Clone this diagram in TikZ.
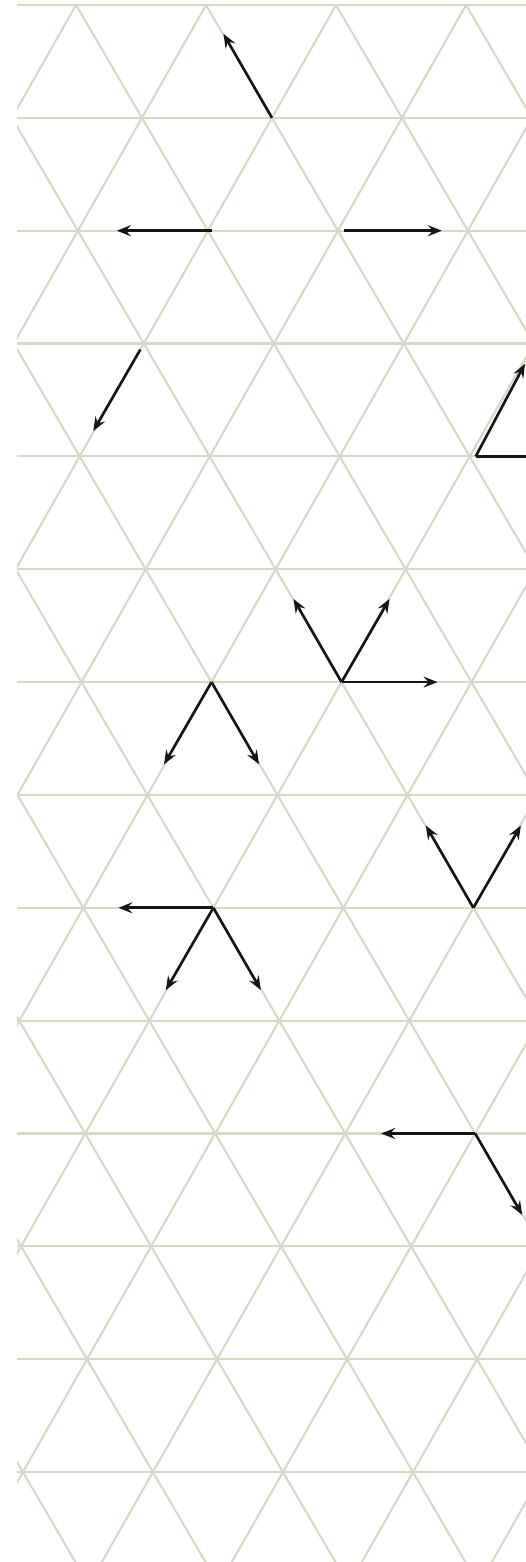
\documentclass[tikz,border=0pt]{standalone}
\definecolor{gridtint}{HTML}{D6D9C7}
\definecolor{ink}{HTML}{151515}
\usetikzlibrary{arrows.meta}
\tikzset{
  lattice/.style={draw=gridtint, line width=0.6pt},
  vec/.style={-{Stealth[length=1.4mm,width=1.1mm,inset=0.5mm]}, line width=0.75pt, color=ink},
}
\begin{document}
\begin{tikzpicture}
\useasboundingbox (0,0) rectangle (5.26,-15.62);
\clip (0,0) rectangle (5.26,-15.62);
% triangular lattice, edge 1.3
\begin{scope}
\clip (0.17,-0.035) rectangle (5.26,-15.62);
\begin{scope}[xslant=-0.0081]
\foreach \k in {0,...,13}
  \draw[lattice] (-1,{-0.05-1.1285*\k}) -- (7,{-0.05-1.1285*\k});
\foreach \i in {-12,...,4}
  \draw[lattice] ({0.76+1.3*\i},-0.05) -- ++({0.65*15},{-1.1285*15});
\foreach \i in {0,...,16}
  \draw[lattice] ({0.76+1.3*\i},-0.05) -- ++({-0.65*15},{-1.1285*15});
\foreach \k in {0,...,13}
  \foreach \i in {0,...,3}
    \coordinate (v\i-\k) at ({0.76+0.65*mod(\k,2)+1.3*\i},{-0.05-1.1285*\k});
\end{scope}
\end{scope}
% vectors
\draw[vec] (v1-1) -- ++(120:0.97);
\draw[vec] ([xshift=0.04cm]v1-2) -- ++(180:0.95);
\draw[vec] ([xshift=0.06cm]v2-2) -- ++(0:0.98);
\draw[vec] ([shift={(240:0.07)}]v0-3) -- ++(240:0.94);
\draw[vec] ([xshift=0.06cm]v3-4) -- ++(62:1.05);
\draw[vec] ([xshift=0.06cm]v3-4) -- ++(0:1.0);
\foreach \a in {120,60,0}
  \draw[vec] (v2-6) -- ++(\a:0.96);
\foreach \a in {240,300}
  \draw[vec] (v1-6) -- ++(\a:0.95);
\foreach \a in {120,60}
  \draw[vec] (v3-8) -- ++(\a:0.95);
\foreach \a in {180,240,300}
  \draw[vec] (v1-8) -- ++(\a:0.95);
\foreach \a in {180,300}
  \draw[vec] (v3-10) -- ++(\a:0.94);
\end{tikzpicture}
\end{document}
